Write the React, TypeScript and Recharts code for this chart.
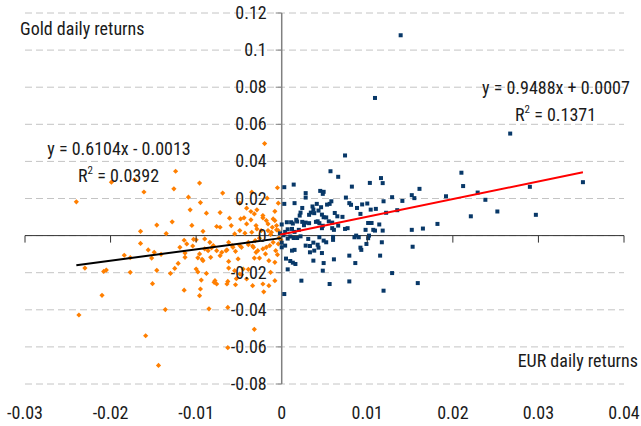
import React from 'react';
import { ScatterChart, Scatter, XAxis, YAxis, CartesianGrid, ReferenceLine } from 'recharts';

// ---------- data ----------
const xTicks = [-0.03, -0.02, -0.01, 0, 0.01, 0.02, 0.03, 0.04];
const xTickLabels = ['-0.03', '-0.02', '-0.01', '0', '0.01', '0.02', '0.03', '0.04'];
const yTicks = [-0.08, -0.06, -0.04, -0.02, 0, 0.02, 0.04, 0.06, 0.08, 0.1, 0.12];
const yTickLabels = ['-0.08', '-0.06', '-0.04', '-0.02', '0', '0.02', '0.04', '0.06', '0.08', '0.1', '0.12'];

// days when EUR fell: [EUR return, Gold return]
const eurDownDays: [number, number][] = [
  [-0.0240, 0.0182], [-0.0199, 0.0288], [-0.0172, 0.0301], [-0.0161, 0.0235], [-0.0124, 0.0347],
  [-0.0126, 0.0252], [-0.0109, 0.0207], [-0.0107, 0.0139], [-0.0096, 0.0283], [-0.0095, 0.0178],
  [-0.0128, 0.0074], [-0.0146, 0.0057], [-0.0165, 0.0023], [-0.0135, 0.0011], [-0.0105, 0.0055],
  [-0.0114, -0.0025], [-0.0103, -0.0020], [-0.0104, -0.0056], [-0.0165, -0.0042], [-0.0156, -0.0077],
  [-0.0149, -0.0090], [-0.0184, -0.0106], [-0.0177, -0.0119], [-0.0152, -0.0121], [-0.0141, -0.0101],
  [-0.0119, -0.0063], [-0.0113, -0.0094], [-0.0113, -0.0117], [-0.0121, -0.0150], [-0.0125, -0.0177],
  [-0.0130, -0.0204], [-0.0146, -0.0187], [-0.0177, -0.0198], [-0.0208, -0.0193], [-0.0205, -0.0186],
  [-0.0230, -0.0175], [-0.0210, -0.0322], [-0.0237, -0.0428], [-0.0151, -0.0259], [-0.0136, -0.0399],
  [-0.0159, -0.0540], [-0.0144, -0.0700], [-0.0114, -0.0294], [-0.0098, -0.0196], [-0.0094, -0.0240],
  [-0.0096, -0.0324], [-0.0095, -0.0288], [-0.0085, -0.0395], [-0.0063, -0.0387], [-0.0032, -0.0505],
  [-0.0063, -0.0604], [-0.0021, -0.0303], [-0.0015, -0.0270], [-0.0034, -0.0270], [-0.0079, -0.0252],
  [-0.0076, -0.0261], [-0.0063, -0.0247], [-0.0020, 0.0496], [-0.0005, 0.0258], [-0.0004, 0.0175],
  [-0.0017, 0.0202], [-0.0035, 0.0234], [-0.0029, 0.0139], [-0.0041, 0.0148], [-0.0049, 0.0175],
  [-0.0069, 0.0229], [-0.0072, 0.0124], [-0.0088, 0.0121], [-0.0008, 0.0131], [-0.0061, 0.0094],
  [-0.0076, 0.0049], [-0.0072, 0.0045], [-0.0048, 0.0090], [-0.0036, 0.0130], [-0.0032, 0.0117],
  [-0.0041, 0.0063], [-0.0059, 0.0054], [-0.0018, 0.0081], [-0.0008, 0.0081], [-0.0016, 0.0063],
  [-0.0011, 0.0045], [-0.0006, 0.0031], [-0.0012, 0.0018], [-0.0024, 0.0027], [-0.0029, 0.0036],
  [-0.0035, 0.0018], [-0.0043, 0.0013], [-0.0049, 0.0027], [-0.0055, 0.0009], [-0.0002, 0.0009],
  [-0.0022, 0.0108], [-0.0100, -0.0023], [-0.0090, -0.0018], [-0.0084, -0.0036], [-0.0082, -0.0066],
  [-0.0086, -0.0081], [-0.0098, -0.0120], [-0.0093, -0.0128], [-0.0083, -0.0117], [-0.0070, -0.0090],
  [-0.0064, -0.0077], [-0.0062, -0.0036], [-0.0058, -0.0054], [-0.0054, -0.0085], [-0.0047, -0.0063],
  [-0.0051, -0.0126], [-0.0062, -0.0139], [-0.0039, -0.0036], [-0.0034, -0.0056], [-0.0030, -0.0090],
  [-0.0032, -0.0121], [-0.0026, -0.0121], [-0.0022, -0.0072], [-0.0019, -0.0099], [-0.0014, -0.0054],
  [-0.0010, -0.0036], [-0.0007, -0.0081], [-0.0005, -0.0103], [-0.0015, -0.0135], [-0.0062, -0.0175],
  [-0.0055, -0.0189], [-0.0047, -0.0211], [-0.0039, -0.0182], [-0.0078, -0.0243], [-0.0053, -0.0232],
  [-0.0064, -0.0261], [-0.0013, -0.0198], [-0.0008, -0.0243], [-0.0022, -0.0261], [-0.0044, 0.0096],
  [-0.0036, 0.0085], [-0.0022, 0.0096], [-0.0010, 0.0090], [-0.0006, 0.0054], [-0.0016, 0.0027],
  [-0.0004, 0.0027], [-0.0030, 0.0054], [-0.0092, 0.0023], [-0.0111, -0.0045], [-0.0096, -0.0099],
  [-0.0090, -0.0072], [-0.0080, -0.0054], [-0.0076, -0.0081], [-0.0072, -0.0108], [-0.0065, -0.0081],
  [-0.0057, -0.0063], [-0.0049, -0.0054], [-0.0039, -0.0049], [-0.0033, -0.0063], [-0.0028, -0.0081],
  [-0.0018, -0.0063], [-0.0004, -0.0045], [-0.0008, -0.0144], [-0.0088, -0.0204], [-0.0100, -0.0180],
  [-0.0092, -0.0135], [-0.0054, -0.0265], [-0.0049, -0.0207], [-0.0041, -0.0234], [-0.0045, -0.0180],
  [-0.0003, -0.0012], [-0.0001, -0.0022], [-0.0026, -0.0014], [-0.0031, -0.0027], [-0.0013, 0.0006],
];

// days when EUR rose: [EUR return, Gold return]
const eurUpDays: [number, number][] = [
  [0.0139, 0.1080], [0.0109, 0.0742], [0.0267, 0.0550], [0.0352, 0.0288], [0.0210, 0.0339],
  [0.0212, 0.0267], [0.0290, 0.0263], [0.0297, 0.0112], [0.0229, 0.0232], [0.0238, 0.0193],
  [0.0252, 0.0130], [0.0221, 0.0104], [0.0192, 0.0212], [0.0182, 0.0063], [0.0165, 0.0038],
  [0.0152, 0.0031], [0.0161, 0.0252], [0.0152, 0.0218], [0.0155, 0.0202], [0.0141, 0.0187],
  [0.0135, 0.0137], [0.0129, 0.0207], [0.0122, 0.0123], [0.0119, 0.0185], [0.0116, 0.0310],
  [0.0118, 0.0283], [0.0110, 0.0144], [0.0109, 0.0027], [0.0118, 0.0027], [0.0117, -0.0036],
  [0.0115, -0.0108], [0.0153, -0.0060], [0.0129, -0.0202], [0.0159, -0.0256], [0.0119, -0.0297],
  [0.0102, 0.0000], [0.0099, -0.0045], [0.0093, -0.0077], [0.0086, -0.0148], [0.0079, -0.0108],
  [0.0079, -0.0247], [0.0085, -0.0009], [0.0061, -0.0128], [0.0056, -0.0261], [0.0048, -0.0189],
  [0.0049, -0.0148], [0.0047, -0.0094], [0.0003, -0.0315], [0.0074, 0.0432], [0.0057, 0.0347],
  [0.0066, 0.0317], [0.0014, 0.0275], [0.0003, 0.0261], [0.0103, 0.0284], [0.0082, 0.0264],
  [0.0045, 0.0241], [0.0049, 0.0236], [0.0048, 0.0225], [0.0028, 0.0229], [0.0028, 0.0205],
  [0.0075, 0.0205], [0.0015, 0.0175], [0.0003, 0.0171], [0.0041, 0.0171], [0.0058, 0.0185],
  [0.0056, 0.0171], [0.0079, 0.0175], [0.0081, 0.0166], [0.0100, 0.0173], [0.0094, 0.0168],
  [0.0088, 0.0149], [0.0104, 0.0140], [0.0036, 0.0157], [0.0024, 0.0149], [0.0053, 0.0167],
  [0.0046, 0.0153], [0.0043, 0.0135], [0.0037, 0.0140], [0.0034, 0.0124], [0.0038, 0.0121],
  [0.0032, 0.0112], [0.0047, 0.0113], [0.0049, 0.0099], [0.0052, 0.0098], [0.0062, 0.0122],
  [0.0065, 0.0104], [0.0092, 0.0117], [0.0071, 0.0101], [0.0055, 0.0077], [0.0059, 0.0070],
  [0.0042, 0.0077], [0.0040, 0.0074], [0.0044, 0.0067], [0.0028, 0.0070], [0.0024, 0.0074],
  [0.0032, 0.0067], [0.0011, 0.0072], [0.0013, 0.0065], [0.0017, 0.0085], [0.0018, 0.0076],
  [0.0022, 0.0124], [0.0021, 0.0108], [0.0006, 0.0072], [0.0000, 0.0060], [0.0007, 0.0034],
  [0.0004, 0.0020], [0.0012, 0.0036], [0.0015, 0.0020], [0.0020, 0.0031], [0.0026, 0.0056],
  [0.0048, 0.0053], [0.0047, 0.0040], [0.0059, 0.0040], [0.0061, 0.0031], [0.0066, 0.0054],
  [0.0074, 0.0036], [0.0077, 0.0040], [0.0098, 0.0031], [0.0107, 0.0031], [0.0114, 0.0060],
  [0.0101, 0.0068], [0.0105, 0.0068], [0.0087, 0.0000], [0.0090, -0.0009], [0.0101, -0.0014],
  [0.0092, -0.0065], [0.0060, -0.0007], [0.0044, -0.0009], [0.0049, -0.0027], [0.0052, -0.0036],
  [0.0060, -0.0023], [0.0043, -0.0065], [0.0042, -0.0049], [0.0037, -0.0038], [0.0033, -0.0056],
  [0.0028, -0.0054], [0.0031, -0.0018], [0.0022, -0.0004], [0.0018, -0.0013], [0.0014, -0.0013],
  [0.0010, -0.0005], [0.0007, -0.0016], [0.0002, 0.0002], [0.0000, -0.0038], [0.0004, -0.0054],
  [0.0015, -0.0077], [0.0012, -0.0081], [0.0005, -0.0124], [0.0010, -0.0137], [0.0013, -0.0146],
  [0.0016, -0.0153], [0.0007, -0.0182], [0.0023, -0.0243], [0.0037, -0.0135], [0.0033, -0.0090],
  [0.0038, -0.0081], [0.0000, -0.0063], [-0.0002, 0.0012],
];

// Excel trend line coefficients
const downTrend = { slope: 0.6104, intercept: -0.0013 };
const upTrend = { slope: 0.9488, intercept: 0.0007 };

// ---------- layout / style ----------
const W = 641;
const H = 426;
const MARGIN = { top: 13, right: 17, bottom: 0, left: 0 };
const X_AXIS_H = 42;
const Y_AXIS_W = 25;
const X_DOMAIN: [number, number] = [-0.03, 0.04];
const Y_DOMAIN: [number, number] = [-0.08, 0.12];
const PLOT_L = MARGIN.left + Y_AXIS_W;
const PLOT_R = W - MARGIN.right;
const PLOT_T = MARGIN.top;
const PLOT_B = H - MARGIN.bottom - X_AXIS_H;
const ZERO_X = PLOT_L + ((PLOT_R - PLOT_L) * (0 - X_DOMAIN[0])) / (X_DOMAIN[1] - X_DOMAIN[0]);
const ZERO_Y = PLOT_T + ((PLOT_B - PLOT_T) * (Y_DOMAIN[1] - 0)) / (Y_DOMAIN[1] - Y_DOMAIN[0]);

const FONT = "'Liberation Sans Narrow', 'Arial Narrow', 'Roboto Condensed', 'Liberation Sans', sans-serif";
const TEXT = '#1a1a1a';
const FS = 18;
const BLUE = '#083868';
const ORANGE = '#FF7F00';
const X_AXIS_COLOR = '#333333';
const Y_AXIS_COLOR = '#808080';
const GRID = '#c4c4c4';

const toPoints = (arr: [number, number][]) => arr.map(([x, y]) => ({ x, y }));
const downData = toPoints(eurDownDays);
const upData = toPoints(eurUpDays);

const trendData = (arr: [number, number][], t: { slope: number; intercept: number }) => {
  const xs = arr.map((p) => p[0]);
  const lo = Math.min(...xs);
  const hi = Math.max(...xs);
  return [
    { x: lo, y: t.slope * lo + t.intercept },
    { x: hi, y: t.slope * hi + t.intercept },
  ];
};
const downTrendData = trendData(eurDownDays, downTrend);
const upTrendData = trendData(eurUpDays, upTrend);

const XTick = (props: any) => {
  const { x, payload } = props;
  const i = xTicks.indexOf(payload.value);
  return (
    <g>
      <line x1={x} x2={x} y1={ZERO_Y} y2={ZERO_Y + 7} stroke={X_AXIS_COLOR} strokeWidth={1} />
      <text x={x} y={419} textAnchor="middle" fontFamily={FONT} fontSize={FS} fill={TEXT}>
        {xTickLabels[i]}
      </text>
    </g>
  );
};

const YTick = (props: any) => {
  const { y, payload } = props;
  const i = yTicks.indexOf(payload.value);
  return (
    <g>
      <line x1={ZERO_X - 6} x2={ZERO_X} y1={y} y2={y} stroke={Y_AXIS_COLOR} strokeWidth={1} />
      <text x={ZERO_X - 15} y={y + 6} textAnchor="end" fontFamily={FONT} fontSize={FS} fill={TEXT}>
        {yTickLabels[i]}
      </text>
    </g>
  );
};

const Diamond = (props: any) => {
  const { cx, cy } = props;
  const r = 2.6;
  return (
    <polygon
      points={`${cx},${cy - r} ${cx + r},${cy} ${cx},${cy + r} ${cx - r},${cy}`}
      fill={ORANGE}
    />
  );
};

const Square = (props: any) => {
  const { cx, cy } = props;
  return <rect x={cx - 2} y={cy - 2} width={4} height={4} fill={BLUE} />;
};

const NoShape = () => <g />;

export default function App() {
  return (
    <div style={{ position: 'absolute', left: 0, top: 0, width: W, height: H, background: '#fff' }}>
      <ScatterChart width={W} height={H} margin={MARGIN}>
        <CartesianGrid vertical={false} stroke={GRID} strokeDasharray="7 4" />
        <XAxis
          type="number"
          dataKey="x"
          domain={X_DOMAIN}
          ticks={xTicks}
          interval={0}
          height={X_AXIS_H}
          axisLine={false}
          tickLine={false}
          tick={<XTick />}
          allowDataOverflow
        />
        <YAxis
          type="number"
          dataKey="y"
          domain={Y_DOMAIN}
          ticks={yTicks}
          interval={0}
          width={Y_AXIS_W}
          axisLine={false}
          tickLine={false}
          tick={<YTick />}
          allowDataOverflow
        />
        <ReferenceLine y={0} stroke={X_AXIS_COLOR} strokeWidth={1} />
        <ReferenceLine x={0} stroke={Y_AXIS_COLOR} strokeWidth={1.5} />
        <Scatter data={downData} shape={<Diamond />} isAnimationActive={false} />
        <Scatter data={upData} shape={<Square />} isAnimationActive={false} />
        <Scatter
          data={downTrendData}
          shape={<NoShape />}
          line={{ stroke: '#000000', strokeWidth: 2 }}
          isAnimationActive={false}
        />
        <Scatter
          data={upTrendData}
          shape={<NoShape />}
          line={{ stroke: '#ff0000', strokeWidth: 2 }}
          isAnimationActive={false}
        />
      </ScatterChart>
      <svg
        width={W}
        height={H}
        style={{ position: 'absolute', left: 0, top: 0, pointerEvents: 'none' }}
      >
        <g fontFamily={FONT} fontSize={FS} fill={TEXT}>
          <text x={20} y={35}>Gold daily returns</text>
          <text x={119} y={155} textAnchor="middle">y = 0.6104x - 0.0013</text>
          <text x={78} y={182}>
            R<tspan fontSize={11} dy={-8}>2</tspan>
            <tspan dy={8}> = 0.0392</tspan>
          </text>
          <text x={482} y={94}>y = 0.9488x + 0.0007</text>
          <text x={515} y={121}>
            R<tspan fontSize={11} dy={-8}>2</tspan>
            <tspan dy={8}> = 0.1371</tspan>
          </text>
          <text x={638} y={367} textAnchor="end">EUR daily returns</text>
        </g>
      </svg>
    </div>
  );
}
